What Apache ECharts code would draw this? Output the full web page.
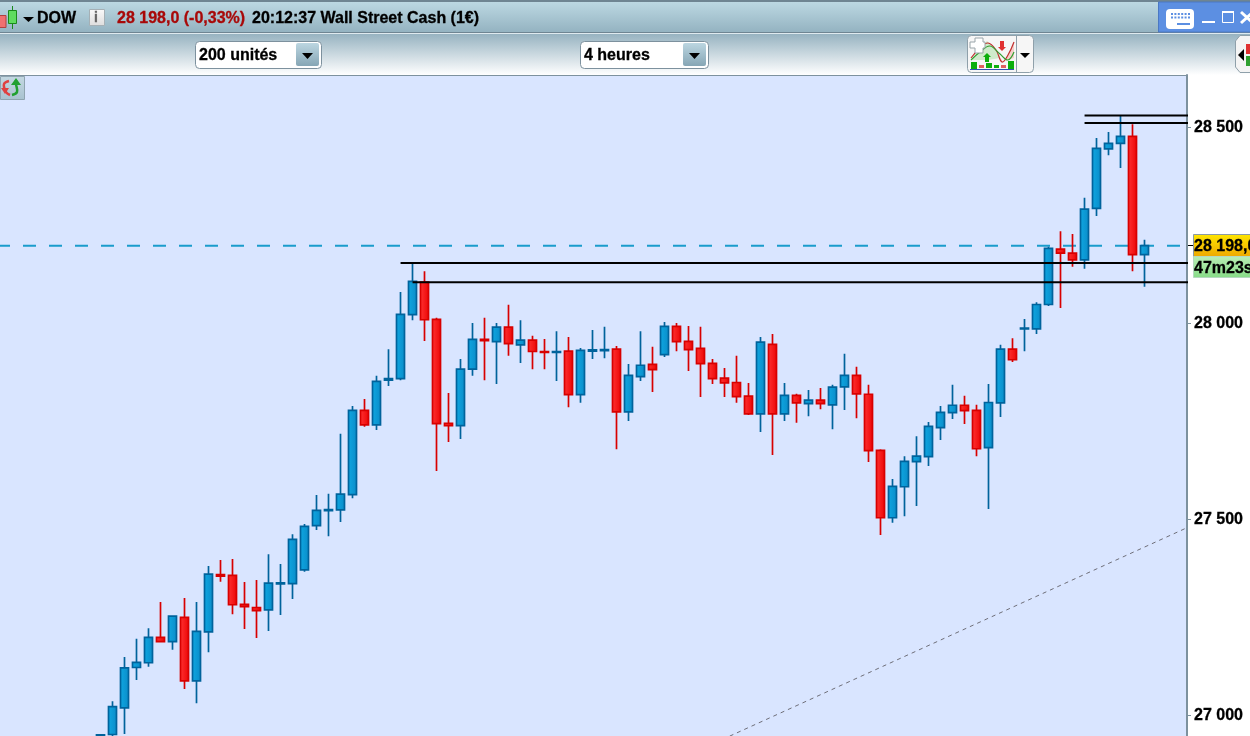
<!DOCTYPE html>
<html>
<head>
<meta charset="utf-8">
<title>DOW</title>
<style>
html, body { margin: 0; padding: 0; background: #fff; overflow: hidden; }
#chart { width: 1250px; height: 736px; }
</style>
<script src="https://cdn.jsdelivr.net/npm/echarts@6/dist/echarts.min.js"></script>
</head>
<body>
<div id="chart"></div>
<script>
// open / close / low / high of each 4h candle, oldest first
const opens = [26948,26951,27019,27122,27134,27199,27188,27250,27088,27213,27359,27357,27283,27275,27269,27335,27336,27371,27484,27522,27524,27563,27778,27741,27855,27859,28022,28105,28010,27745,27739,27883,27959,27953,27990,27945,27957,27928,27926,27929,27818,27929,27930,27934,27774,27864,27895,27920,27992,27954,27936,27898,27860,27849,27814,27769,27946,27769,27816,27795,27804,27792,27838,27867,27819,27676,27504,27583,27647,27660,27734,27772,27791,27778,27683,27797,27934,27986,27986,28048,28189,28179,28162,28293,28445,28459,28477,28175];
const closes = [26950,27022,27121,27135,27199,27188,27253,27088,27214,27360,27355,27282,27277,27267,27337,27338,27449,27482,27523,27525,27564,27778,27741,27852,27859,28023,28107,28009,27744,27739,27883,27959,27956,27990,27948,27957,27928,27926,27928,27818,27931,27932,27933,27774,27867,27893,27882,27992,27953,27933,27897,27859,27848,27813,27769,27952,27769,27816,27797,27804,27795,27837,27867,27820,27675,27504,27584,27648,27661,27737,27773,27791,27777,27680,27798,27934,27907,27988,28048,28191,28179,28162,28291,28446,28459,28477,28175,28198];
const lows = [26945,26946,26952,27090,27124,27187,27167,27067,27031,27161,27341,27258,27220,27197,27215,27256,27297,27366,27473,27457,27493,27554,27736,27728,27840,27855,28008,27955,27623,27697,27705,27866,27855,27845,27917,27899,27883,27883,27853,27786,27797,27909,27911,27679,27751,27853,27825,27914,27929,27878,27812,27845,27812,27797,27766,27723,27664,27751,27746,27763,27781,27730,27779,27758,27646,27460,27491,27508,27534,27636,27702,27756,27743,27661,27526,27761,27901,27929,27973,28044,28039,28144,28139,28274,28429,28396,28133,28093];
const highs = [26952,27036,27149,27195,27222,27289,27254,27299,27289,27381,27396,27399,27340,27345,27411,27386,27462,27488,27562,27565,27718,27789,27807,27866,27934,28080,28154,28133,28014,27822,27909,28001,28014,28001,28047,28008,27968,27960,27980,27965,27937,27983,27991,27942,27896,27980,27940,28003,28001,27993,27991,27909,27886,27917,27848,27965,27973,27848,27820,27830,27835,27843,27922,27889,27843,27679,27603,27661,27712,27748,27789,27843,27815,27792,27845,27945,27962,28011,28054,28195,28235,28228,28320,28473,28488,28529,28508,28213];

const lastPrice = 28198;
// support / resistance levels: price and the candle they start from
const levelPrices = [28530, 28511, 28154, 28105];
const levelStarts = [82, 82, 25, 26];
// dotted trend line ends: candle slot and price
const trendSlots = [50, 91];
const trendPrices = [26913, 27485];
const tickValues = [27000, 27500, 28000, 28500];

const FONT = '"Liberation Sans", Arial, sans-serif';
const candles = opens.map((o, i) => [i, o, closes[i], lows[i], highs[i]]);

const vgrad = (a, b) => new echarts.graphic.LinearGradient(0, 0, 0, 1, [
  { offset: 0, color: a }, { offset: 1, color: b }
]);
const hgrad = (a, b) => new echarts.graphic.LinearGradient(0, 0, 1, 0, [
  { offset: 0, color: a }, { offset: 1, color: b }
]);

function box(x, y, width, height, fill, stroke, r) {
  return {
    type: 'rect', silent: true,
    shape: { x, y, width, height, r: r || 0 },
    style: { fill: fill, stroke: stroke || null, lineWidth: stroke ? 1 : 0 }
  };
}
function label(x, y, text, fill, size) {
  return {
    type: 'text', silent: true, x, y,
    style: {
      text, fill: fill || '#000', font: `bold ${size || 16}px ${FONT}`,
      textVerticalAlign: 'middle', stroke: fill || '#000', lineWidth: 0.3
    }
  };
}
function tri(x, y, w, h) {
  return {
    type: 'polygon', silent: true,
    shape: { points: [[x, y], [x + w, y], [x + w / 2, y + h]] },
    style: { fill: '#000' }
  };
}
function poly(points, fill, stroke) {
  return {
    type: 'polygon', silent: true,
    shape: { points },
    style: { fill: fill, stroke: stroke || null, lineWidth: stroke ? 1 : 0 }
  };
}
function curve(points, stroke, width) {
  return {
    type: 'polyline', silent: true,
    shape: { points, smooth: 0.4 },
    style: { stroke, lineWidth: width, fill: null }
  };
}
function dropdown(x, width, text) {
  return [
    box(x + 0.5, 41.5, width, 27, '#fff', '#7d919e', 4),
    box(x + width - 25, 43, 23, 23, vgrad('#bcd6e1', '#86a6b5'), null, 2),
    tri(x + width - 19, 53, 11, 6),
    label(x + 4, 56, text)
  ];
}

function toolbar() {
  let items = [
    box(0, 0, 1250, 76, '#fff'),
    box(0, 0, 1250, 2, '#6f8592'),
    box(0, 2, 1250, 30, vgrad('#bcd8e2', '#94b3c1')),
    box(0, 32, 1250, 1, '#6f8592'),
    box(0, 33, 1250, 1, '#dfeaef'),
    box(0, 34, 1250, 41, vgrad('#97b3c1', '#ffffff')),
    // white price panel on the right
    box(1188, 75, 62, 661, '#fff'),
    box(0, 75, 1188, 1, '#7d919e'),
    // instrument icon
    box(-3, 15.5, 9, 12, '#f07070', '#b04040'),
    box(12, 6, 1, 23, '#1a8a1a'),
    box(8.5, 10.5, 8, 13, '#5fdc5f', '#1a8a1a'),
    tri(23, 17, 11, 5),
    label(37, 19, 'DOW'),
    // info button
    box(89.5, 9.5, 15, 16, vgrad('#fafafa', '#dddddd'), '#a5b0b5'),
    label(94, 18, 'i', '#666', 14),
    label(117, 19, '28 198,0 (-0,33%)', '#a80808'),
    label(252, 19, '20:12:37 Wall Street Cash (1€)'),
    // window buttons
    box(1158.5, 2, 92, 30, '#5c8fe2', '#4a78c4'),
    box(1166, 9, 28, 20, '#fff', null, 4),
    box(1202, 21, 13, 2, '#fff'),
    box(1222.5, 12.5, 11, 10, null, '#fff'),
    box(1222, 11, 12, 2, '#fff'),
    curve([[1241, 12], [1253, 23]], '#fff', 3),
    curve([[1253, 12], [1241, 23]], '#fff', 3)
  ];
  // keys of the keyboard icon
  for (let r = 0; r < 2; r++) {
    for (let c = 0; c < 6; c++) {
      items.push(box(1171 + c * 3.4, 13 + r * 3.5, 2, 2, '#5c8fe2'));
    }
  }
  items.push(box(1177, 23, 13, 2, '#5c8fe2'));

  items = items.concat(dropdown(195, 126, '200 unités'), dropdown(580, 128, '4 heures'));

  // indicator button
  items.push(
    box(967.5, 35.5, 66, 37, '#f6f6f6', '#8fa0aa', 4),
    box(1016, 36, 1, 36, '#8fa0aa'),
    tri(1020, 53, 10, 5),
    poly([[980, 48], [987, 41], [996, 50], [1000, 58], [988, 60], [972, 60]], '#cfeacb'),
    poly([[996, 50], [1003, 62], [1008, 55], [1014, 42], [1014, 58], [1002, 62]], '#f5cfca'),
    box(971, 62, 6, 7, '#0cae0c'),
    box(979, 65, 5, 3, '#e06060'),
    box(986, 63, 6, 5, '#0cae0c'),
    box(994, 65, 5, 3, '#0cae0c'),
    box(1001, 65, 5, 3, '#e06060'),
    box(1008, 61, 6, 8, '#0cae0c'),
    box(970, 69, 44, 1, '#3050b0'),
    box(985, 57, 4, 5, '#0cae0c'),
    poly([[983, 57], [987, 53], [991, 57]], '#0cae0c'),
    box(1000, 41, 4, 6, '#e03030'),
    poly([[998, 47], [1002, 51], [1006, 47]], '#e03030'),
    curve([[971, 58], [980, 48], [988, 43], [996, 50], [1002, 62], [1008, 55], [1014, 42]], '#c03030', 1.2),
    curve([[971, 60], [980, 52], [990, 46], [1000, 54], [1008, 60], [1014, 52]], '#30a030', 1.2),
    poly([[975, 38], [983, 38], [983, 42], [985, 42], [985, 48], [983, 48], [983, 53], [975, 53], [975, 48], [970, 48], [970, 42], [975, 42]], '#fff', '#9aa5aa'),
    // far right tool button
    poly([[1240, 35.5], [1256, 35.5], [1256, 72.5], [1240, 72.5], [1235.5, 67], [1235.5, 41]], '#f4f4f4', '#8fa0aa'),
    box(1246, 44, 4, 10, '#e03030'),
    box(1246, 56, 4, 10, '#30a030'),
    poly([[1244, 49], [1238, 55], [1244, 61]], '#000'),
    // refresh button on the plot
    box(0.5, 76.5, 24, 23, vgrad('#c4d8e2', '#a8c2cf'), '#8fa4b0'),
    curve([[9, 81], [4, 84], [6, 92], [10, 95]], '#e04040', 2.5),
    poly([[1, 88], [9, 88], [5, 94]], '#e04040'),
    curve([[12, 95], [17, 92], [16, 84], [16, 80]], '#20a030', 2.5),
    poly([[11, 85], [16, 78], [21, 85]], '#20a030'),
    // last price and countdown tags
    box(1188, 245, 5, 1, '#000'),
    box(1193.5, 234.5, 60, 22, vgrad('#ffe600', '#eea800'), '#8b9aa3'),
    box(1193.5, 256.5, 60, 21, vgrad('#b9eeb5', '#86db86'), '#b5d8c0'),
    label(1194, 247, '28 198,0'),
    label(1194, 269, '47m23s')
  );
  return items;
}

const chart = echarts.init(document.getElementById('chart'), null, { renderer: 'canvas' });

const levelSeries = levelPrices.map((p, i) => ({
  type: 'line',
  z: 5,
  symbol: 'none',
  silent: true,
  animation: false,
  lineStyle: { color: '#000', width: 2 },
  data: [[levelStarts[i], p], [100, p]]
}));

chart.setOption({
  animation: false,
  backgroundColor: '#fff',
  tooltip: { show: false },
  grid: {
    left: 0, top: 75, width: 1187, height: 661,
    show: true, backgroundColor: '#d9e5ff', borderWidth: 0
  },
  xAxis: {
    type: 'value',
    min: -8.38,
    max: 90.537,
    show: false
  },
  yAxis: {
    type: 'value',
    position: 'right',
    min: 26947.2,
    max: 28633.4,
    splitLine: { show: false },
    axisLine: { show: true, onZero: false, lineStyle: { color: '#7d919e', width: 2 } },
    axisTick: { show: true, length: 4, customValues: tickValues, lineStyle: { color: '#7d919e' } },
    axisLabel: {
      customValues: tickValues,
      margin: 7,
      padding: [4, 0, 0, 0],
      color: '#000',
      fontFamily: FONT,
      fontWeight: 'bold',
      fontSize: 16,
      textBorderColor: '#000',
      textBorderWidth: 0.3,
      formatter: v => String(v).replace(/(\d{2})(\d{3})/, '$1 $2')
    }
  },
  graphic: toolbar(),
  series: [
    {
      type: 'line',
      z: 1,
      symbol: 'none',
      silent: true,
      lineStyle: { color: '#1a9ccc', width: 2, type: [13, 13], dashOffset: 3 },
      data: [[-8.38, lastPrice], [100, lastPrice]]
    },
    {
      type: 'line',
      z: 1,
      symbol: 'none',
      silent: true,
      lineStyle: { color: '#6e6e78', width: 1, type: [4, 4] },
      data: trendSlots.map((s, i) => [s, trendPrices[i]])
    },
    {
      type: 'candlestick',
      z: 3,
      barWidth: 8,
      silent: true,
      itemStyle: {
        color: hgrad('#0fa8e2', '#0a8bc8'),
        color0: hgrad('#ff3434', '#ec0404'),
        borderColor: '#00639c',
        borderColor0: '#d80000',
        borderWidth: 1.7
      },
      data: candles
    }
  ].concat(levelSeries)
});
</script>
</body>
</html>
